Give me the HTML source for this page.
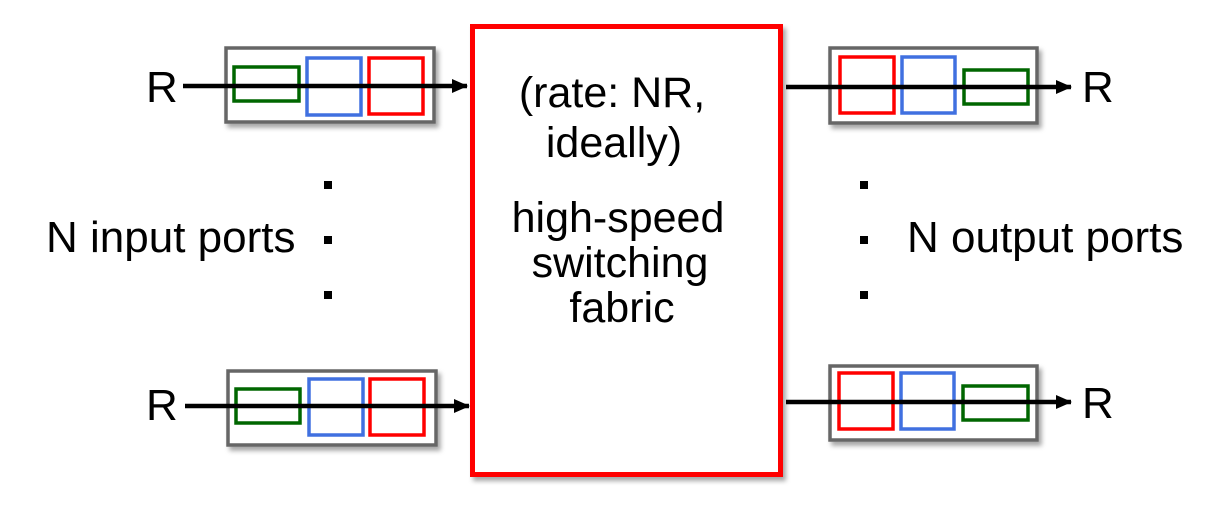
<!DOCTYPE html>
<html><head><style>body{margin:0;background:#fff}svg{display:block}</style></head>
<body>
<svg width="1232" height="506" viewBox="0 0 1232 506" xmlns="http://www.w3.org/2000/svg" font-family="Liberation Sans, sans-serif" font-size="44">
<defs>
<filter id="sh" x="-10%" y="-10%" width="130%" height="130%"><feDropShadow dx="3" dy="4" stdDeviation="2.5" flood-color="#000" flood-opacity="0.35"/></filter>
<marker id="ah" markerWidth="16" markerHeight="14" refX="15" refY="7" orient="auto" markerUnits="userSpaceOnUse"><path d="M0,0 L16,7 L0,14 z" fill="#000"/></marker>
</defs>
<rect x="472.5" y="26.5" width="308" height="448" fill="#fff" stroke="#f00" stroke-width="5" filter="url(#sh)"/>
<g text-anchor="middle" font-size="43">
<text x="612" y="107">(rate: NR,</text>
<text x="614" y="157">ideally)</text>
<text x="618" y="232">high-speed</text>
<text x="620" y="277">switching</text>
<text x="622" y="322">fabric</text>
</g>
<g fill="none" stroke-width="3.5">
<rect x="226" y="48" width="208" height="74" fill="#fff" stroke="#666" filter="url(#sh)"/>
<rect x="234" y="67" width="65" height="34" stroke="#060"/>
<rect x="307" y="58" width="54" height="57" stroke="#4070e0"/>
<rect x="369" y="58" width="54" height="56" stroke="#f00"/>

<rect x="228" y="371" width="208" height="74" fill="#fff" stroke="#666" filter="url(#sh)"/>
<rect x="236" y="389" width="64" height="34" stroke="#060"/>
<rect x="309" y="379" width="54" height="56" stroke="#4070e0"/>
<rect x="370" y="379" width="54" height="56" stroke="#f00"/>

<rect x="830" y="48" width="207" height="75" fill="#fff" stroke="#666" filter="url(#sh)"/>
<rect x="840" y="57" width="54" height="56" stroke="#f00"/>
<rect x="902" y="57" width="53" height="56" stroke="#4070e0"/>
<rect x="964" y="70" width="64" height="34" stroke="#060"/>

<rect x="830" y="366" width="207" height="74" fill="#fff" stroke="#666" filter="url(#sh)"/>
<rect x="839" y="373" width="54" height="56" stroke="#f00"/>
<rect x="901" y="373" width="53" height="56" stroke="#4070e0"/>
<rect x="963" y="386" width="65" height="34" stroke="#060"/>
</g>
<g stroke="#000" stroke-width="4.5">
<line x1="183" y1="86" x2="467" y2="86" marker-end="url(#ah)"/>
<line x1="185" y1="406" x2="469" y2="406" marker-end="url(#ah)"/>
<line x1="786" y1="87" x2="1071" y2="87" marker-end="url(#ah)"/>
<line x1="786" y1="402" x2="1071" y2="402" marker-end="url(#ah)"/>
</g>
<text x="146" y="102">R</text>
<text x="146" y="420">R</text>
<text x="1082" y="102">R</text>
<text x="1082" y="418">R</text>
<text x="46" y="252">N input ports</text>
<text x="907" y="252">N output ports</text>
<g fill="#000">
<rect x="324" y="181" width="8" height="8"/><rect x="324" y="236" width="8" height="8"/><rect x="324" y="291" width="8" height="8"/>
<rect x="860" y="181" width="8" height="8"/><rect x="860" y="236" width="8" height="8"/><rect x="860" y="291" width="8" height="8"/>
</g>
</svg>
</body></html>
